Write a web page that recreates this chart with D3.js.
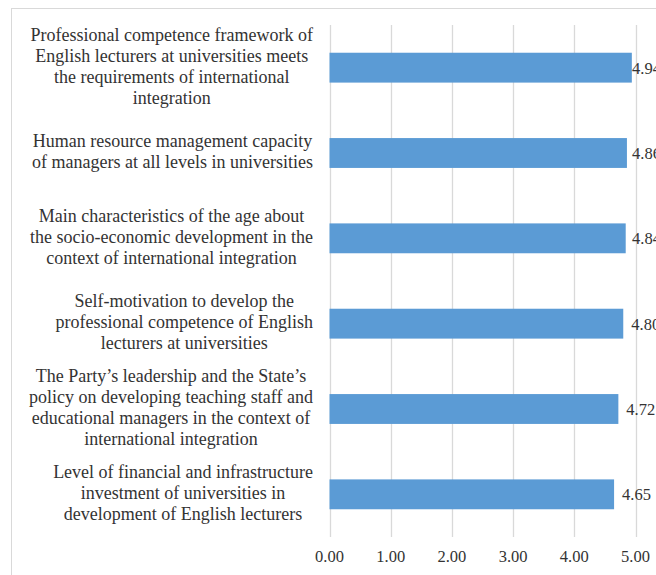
<!DOCTYPE html>
<html>
<head>
<meta charset="utf-8">
<script src="https://cdn.jsdelivr.net/npm/d3@7"></script>
<style>
  body { margin: 0; background: #fff; }
  svg { display: block; }
  text { font-family: "Liberation Serif", serif; fill: #333; }
</style>
</head>
<body>
<svg id="chart" width="656" height="575"></svg>
<script>
const categories = [
  ['Professional competence framework of', 'English lecturers at universities meets', 'the requirements of international', 'integration'],
  ['Human resource management capacity', 'of managers at all levels in universities'],
  ['Main characteristics of the age about', 'the socio-economic development in the', 'context of international integration'],
  ['Self-motivation to develop the', 'professional competence of English', 'lecturers at universities'],
  ['The Party\u2019s leadership and the State\u2019s', 'policy on developing teaching staff and', 'educational managers in the context of', 'international integration'],
  ['Level of financial and infrastructure', 'investment of universities in', 'development of English lecturers'],
];
const values = [4.94, 4.86, 4.84, 4.80, 4.72, 4.65];
const ticks = [0, 1, 2, 3, 4, 5];

const svg = d3.select('#chart');

// outer frame (chart is cropped on the right and bottom)
svg.append('rect')
  .attr('x', 11.5).attr('y', 8.5)
  .attr('width', 700).attr('height', 600)
  .attr('fill', 'none')
  .attr('stroke', '#d9d9d9');

let x = d3.scaleLinear().domain([0, 5]).range([329.5, 635.5]);
let y = d3.scaleBand()
  .domain(d3.range(categories.length))
  .range([25, 537])
  .paddingInner(0.65)
  .paddingOuter(0.325);

// gridlines
svg.append('g')
  .selectAll('line')
  .data(ticks)
  .join('line')
  .attr('x1', (d) => Math.round(x(d)) + 0.5)
  .attr('x2', (d) => Math.round(x(d)) + 0.5)
  .attr('y1', 25)
  .attr('y2', 537)
  .attr('stroke', '#d9d9d9')
  .attr('stroke-width', 1.3);

// tick labels
svg.append('g')
  .selectAll('text')
  .data(ticks)
  .join('text')
  .attr('x', (d) => x(d))
  .attr('y', 562)
  .attr('text-anchor', 'middle')
  .style('font-size', '16.5px')
  .text((d) => d3.format('.2f')(d));

// bars
svg.append('g')
  .selectAll('rect')
  .data(values)
  .join('rect')
  .attr('x', x(0))
  .attr('y', (d, i) => y(i))
  .attr('width', (d) => x(d) - x(0))
  .attr('height', y.bandwidth())
  .attr('fill', '#5b9bd5');

// value labels
svg.append('g')
  .selectAll('text')
  .data(values)
  .join('text')
  .attr('x', (d) => Math.min(x(d) + 8, 632))
  .attr('y', (d, i) => y(i) + y.bandwidth() / 2 + 6)
  .style('font-size', '16.5px')
  .text((d) => d3.format('.2f')(d));

// category labels: block right-aligned at 313, lines centred in the block
const lineH = 21;
categories.forEach((lines, i) => {
  let cy = y(i) + y.bandwidth() / 2;
  let g = svg.append('g');
  let texts = g.selectAll('text')
    .data(lines)
    .join('text')
    .attr('y', (d, j) => cy + (j - (lines.length - 1) / 2) * lineH + 4.5)
    .attr('text-anchor', 'middle')
    .style('font-size', '18px')
    .text((d) => d);
  let maxW = d3.max(texts.nodes(), (n) => n.getComputedTextLength());
  texts.attr('x', 313 - maxW / 2);
});
</script>
</body>
</html>
